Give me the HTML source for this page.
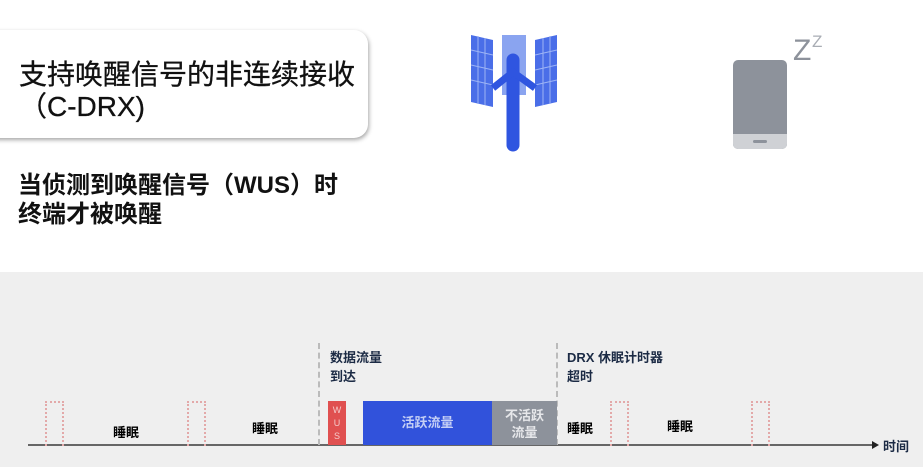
<!DOCTYPE html>
<html><head><meta charset="utf-8"><style>
body{margin:0;width:923px;height:467px;position:relative;overflow:hidden;background:#fff;font-family:"Liberation Sans","Noto Sans CJK SC",sans-serif}
.a{position:absolute}
.card{left:-20px;top:30px;width:388px;height:108px;background:#fff;border-radius:14px;box-shadow:1px 2px 4px rgba(0,0,0,.35)}
.t{font-size:28px;color:#111;line-height:32px;-webkit-text-stroke:0.3px #111;white-space:nowrap}
.s{font-size:24px;font-weight:bold;color:#111;line-height:29px;white-space:nowrap}
.g{left:0;top:272px;width:923px;height:195px;background:#efefef}
.dot{border:2px dotted #e3a9a9;border-bottom:none;width:15px;height:43px;top:401px}
.sl{font-size:13px;font-weight:bold;color:#000}
.lbl{font-size:13px;font-weight:bold;color:#1c2b45;line-height:19px}
.dash{border-left:2px dashed #bbb;top:343px;height:102px}
</style></head><body>
<div class="a card"></div>
<div class="a t" style="left:19px;top:59px">支持唤醒信号的非连续接收<br>（C-DRX)</div>
<div class="a s" style="left:18px;top:171px">当侦测到唤醒信号（WUS）时<br>终端才被唤醒</div>
<svg class="a" style="left:465px;top:30px" width="100" height="122">
<rect x="37" y="5" width="24" height="60" fill="#8aa4f0"/>
<g fill="#4a6ee8"><polygon points="6,5 28,10 28,77 6,72"/><polygon points="70,10 92,5 92,72 70,77"/></g>
<g stroke="#9db4f5" stroke-width="1"><line x1="13" y1="6" x2="13" y2="74"/><line x1="20" y1="8" x2="20" y2="75"/><line x1="78" y1="8" x2="78" y2="75"/><line x1="85" y1="6" x2="85" y2="74"/>
<line x1="6" y1="20" x2="28" y2="25"/><line x1="6" y1="35" x2="28" y2="40"/><line x1="6" y1="50" x2="28" y2="55"/><line x1="70" y1="25" x2="92" y2="20"/><line x1="70" y1="40" x2="92" y2="35"/><line x1="70" y1="55" x2="92" y2="50"/></g>
<line x1="48" y1="30" x2="48" y2="115" stroke="#2f55e0" stroke-width="13" stroke-linecap="round"/>
<polyline points="28,58 48,42 70,58" fill="none" stroke="#2f55e0" stroke-width="7"/>
</svg>
<div class="a" style="left:733px;top:60px;width:54px;height:89px;background:#8d929b;border-radius:5px;overflow:hidden"><div class="a" style="left:0;top:74px;width:54px;height:15px;background:#cfd1d5"></div><div class="a" style="left:20px;top:80px;width:14px;height:3px;background:#8d929b;border-radius:2px"></div></div>
<div class="a" style="left:793px;top:36px;font-size:30px;color:#8d929b;line-height:30px">Z</div>
<div class="a" style="left:812px;top:32px;font-size:17px;color:#a9adb4">Z</div>
<div class="a g"></div>
<div class="a" style="left:28px;top:444px;width:848px;height:2px;background:#666"></div>
<div class="a" style="left:872px;top:441px;width:0;height:0;border-left:7px solid #222;border-top:4px solid transparent;border-bottom:4px solid transparent"></div>
<div class="a lbl" style="left:883px;top:437px">时间</div>
<div class="a dot" style="left:45px"></div><div class="a dot" style="left:187px"></div><div class="a dot" style="left:610px"></div><div class="a dot" style="left:751px"></div>
<div class="a sl" style="left:113px;top:422px">睡眠</div>
<div class="a sl" style="left:252px;top:418px">睡眠</div>
<div class="a sl" style="left:567px;top:418px">睡眠</div>
<div class="a sl" style="left:667px;top:416px">睡眠</div>
<div class="a dash" style="left:318px"></div><div class="a dash" style="left:556px"></div>
<div class="a lbl" style="left:330px;top:348px">数据流量<br>到达</div>
<div class="a lbl" style="left:567px;top:348px">DRX 休眠计时器<br>超时</div>
<div class="a" style="left:328px;top:401px;width:18px;height:44px;background:#e05050;color:#f4caca;font-size:9px;text-align:center;line-height:13px;padding-top:3px;box-sizing:border-box">W<br>U<br>S</div>
<div class="a" style="left:363px;top:401px;width:129px;height:44px;background:#3152db;color:#c5cff5;font-size:13px;font-weight:bold;text-align:center;line-height:44px">活跃流量</div>
<div class="a" style="left:492px;top:401px;width:65px;height:44px;background:#8d929b;color:#e6e7ea;font-size:13px;font-weight:bold;text-align:center;line-height:17px;padding-top:6px;box-sizing:border-box">不活跃<br>流量</div>
</body></html>
